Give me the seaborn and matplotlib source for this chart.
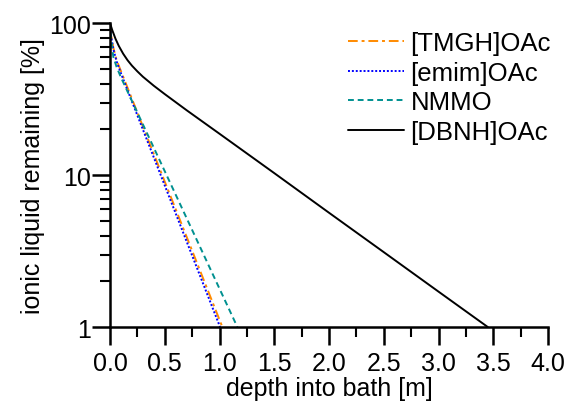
import numpy as np
import pandas as pd
import matplotlib
matplotlib.use("Agg")
import matplotlib.pyplot as plt
from matplotlib.ticker import LogLocator, MultipleLocator, FixedLocator, FixedFormatter, NullFormatter
import seaborn as sns

# Depth into bath [m] and ionic liquid remaining [%] for each solvent
tmgh_depth = [0.0, 0.01, 0.03, 0.06, 0.10, 0.50, 1.026]
tmgh_remaining = [100.0, 84.0, 69.0, 57.0, 48.3, 9.05, 1.0]

emim_depth = [0.0, 0.01, 0.03, 0.06, 0.10, 0.50, 1.005]
emim_remaining = [100.0, 82.0, 67.5, 56.0, 46.7, 8.54, 1.0]

nmmo_depth = [0.0, 0.01, 0.03, 0.06, 0.10, 0.50, 1.163]
nmmo_remaining = [100.0, 78.0, 60.0, 51.5, 43.9, 10.6, 1.0]

dbnh_depth = [0.0, 0.02, 0.05, 0.08, 0.12, 0.16, 0.20, 0.25, 0.30, 0.40,
              0.50, 0.70, 1.0, 1.5, 2.0, 2.5, 3.0, 3.45]
dbnh_remaining = [100.0, 90.1, 78.9, 70.8, 62.9, 57.0, 52.5, 48.1, 44.4, 38.7,
                  34.1, 26.7, 18.7, 10.3, 5.65, 3.11, 1.71, 1.0]

labels = ["[TMGH]OAc", "[emim]OAc", "NMMO", "[DBNH]OAc"]
y_ticks = [1, 10, 100]
y_tick_labels = ["1", "10", "100"]

sns.set_style("ticks")
plt.rcParams["font.family"] = ["Liberation Sans", "DejaVu Sans"]
plt.rcParams["text.color"] = "black"
plt.rcParams["axes.labelcolor"] = "black"

FS = 18

fig = plt.figure(figsize=(5.68, 4.02), dpi=100)
ax = fig.add_axes([0.1937, 0.184, 0.7711, 0.756])

series = [
    (tmgh_depth, tmgh_remaining, "#ff8a00", (0, (5, 2, 1.5, 2))),
    (emim_depth, emim_remaining, "#0000ff", (0, (1, 1))),
    (nmmo_depth, nmmo_remaining, "#009090", (0, (3, 2))),
    (dbnh_depth, dbnh_remaining, "#000000", "-"),
]
for (xd, yd, col, ls), lab in zip(series, labels):
    df = pd.DataFrame({"depth": xd, "remaining": yd})
    sns.lineplot(data=df, x="depth", y="remaining", ax=ax, color=col,
                 linestyle=ls, linewidth=1.4, label=lab, sort=False,
                 estimator=None)

ax.set_yscale("log")
ax.set_xlim(0, 4.0)
ax.set_ylim(1, 100)
ax.xaxis.set_major_locator(MultipleLocator(0.5))
ax.xaxis.set_minor_locator(MultipleLocator(0.25))
ax.xaxis.set_major_formatter(matplotlib.ticker.FormatStrFormatter("%.1f"))
ax.yaxis.set_major_locator(FixedLocator(y_ticks))
ax.yaxis.set_major_formatter(FixedFormatter(y_tick_labels))
ax.yaxis.set_minor_locator(LogLocator(base=10, subs=np.arange(2, 10)))
ax.yaxis.set_minor_formatter(NullFormatter())

ax.tick_params(which="major", direction="out", length=13, width=1.8,
               labelsize=FS, color="black", labelcolor="black")
ax.tick_params(axis="x", which="major", pad=4)
ax.tick_params(axis="y", which="major", pad=1)
ax.tick_params(which="minor", direction="out", length=7, width=1.5, color="black")

for side in ["left", "bottom"]:
    ax.spines[side].set_linewidth(1.8)
    ax.spines[side].set_color("black")
sns.despine(ax=ax)

ax.set_xlabel("depth into bath [m]", fontsize=FS, labelpad=1)
ax.set_ylabel("ionic liquid remaining [%]", fontsize=FS, labelpad=3)

leg = ax.legend(loc="upper right", bbox_to_anchor=(1.03, 1.008), frameon=False,
                fontsize=18.5, handlelength=2.2, handletextpad=0.25,
                labelspacing=0.22, borderaxespad=0.0)
for t in leg.get_texts():
    t.set_color("black")

fig.savefig("out.png", dpi=100)
